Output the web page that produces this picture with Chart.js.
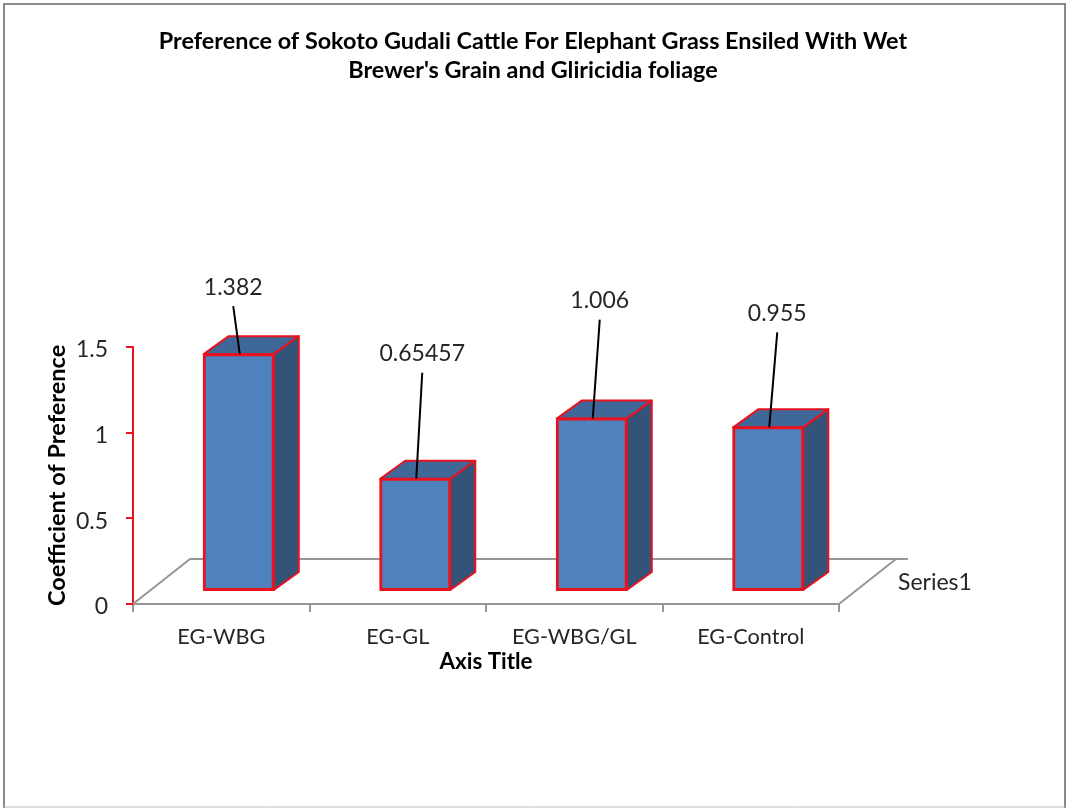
<!DOCTYPE html>
<html>
<head>
<meta charset="utf-8">
<title>Preference of Sokoto Gudali Cattle</title>
<script src="https://cdn.jsdelivr.net/npm/chart.js@4/dist/chart.umd.min.js"></script>
<style>
  html, body { margin: 0; padding: 0; background: #fff; }
  canvas { display: block; }
</style>
</head>
<body>
<canvas id="chart" width="1066" height="808"></canvas>
<script>
// Feed preference data
const categories = ['EG-WBG', 'EG-GL', 'EG-WBG/GL', 'EG-Control'];
const preference = [1.382, 0.65457, 1.006, 0.955];
const seriesName = 'Series1';
const yTicks = [0, 0.5, 1, 1.5];
const chartTitle = [
  'Preference of Sokoto Gudali Cattle For Elephant Grass Ensiled With Wet',
  "Brewer's Grain and Gliricidia foliage"
];

// Where each leader line ends, relative to the middle of its bar's front top edge
const labelOffsetX = [-6.5, 6, 7, 8];
const labelOffsetY = [-48, -106, -99, -95];

// Pseudo-3D projection, in pixels
const FLOOR_DX = 57, FLOOR_DY = -45;   // depth of the floor
const BAR_DX = 25, BAR_DY = -18;       // depth of one column
const FRONT_DX = 17.5, FRONT_DY = -13; // front face inset from the floor's front edge

const FONT = 'Lato, Carlito, Calibri, sans-serif';
const TEXT = '#262626';
const RED = '#ea121e';

const frame = {
  id: 'frame',
  beforeDraw(chart) {
    const { ctx } = chart;
    ctx.save();
    ctx.fillStyle = '#fff';
    ctx.fillRect(0, 0, chart.width, chart.height);
    ctx.strokeStyle = '#8a8a8a';
    ctx.lineWidth = 2;
    ctx.beginPath();
    ctx.moveTo(4, 808);
    ctx.lineTo(4, 4);
    ctx.lineTo(1065, 4);
    ctx.lineTo(1065, 808);
    ctx.stroke();
    ctx.strokeStyle = '#bdbdbd';
    ctx.lineWidth = 1;
    ctx.beginPath();
    ctx.moveTo(4, 807);
    ctx.lineTo(1065, 807);
    ctx.stroke();
    ctx.restore();
  },
  afterLayout(chart) {
    // The title is centred on the whole canvas, not on the narrower plot column
    chart.titleBlock.left = 0;
    chart.titleBlock.right = chart.width;
    // Lato's digits ride high on a middle baseline, so nudge the value-axis labels down
    chart.scales.y.getLabelItems().forEach(item => { item.textOffset += 3; });
  }
};

// Floor outline behind the columns, plus the depth-axis label
const floor = {
  id: 'floor',
  beforeDatasetsDraw(chart) {
    const { ctx, chartArea: a } = chart;
    ctx.save();
    ctx.strokeStyle = '#969696';
    ctx.lineWidth = 2;
    ctx.beginPath();
    ctx.moveTo(a.left, a.bottom);
    ctx.lineTo(a.left + FLOOR_DX, a.bottom + FLOOR_DY);
    ctx.lineTo(a.right + FLOOR_DX + 12, a.bottom + FLOOR_DY);
    ctx.moveTo(a.right, a.bottom);
    ctx.lineTo(a.right + FLOOR_DX, a.bottom + FLOOR_DY);
    ctx.stroke();
    ctx.fillStyle = TEXT;
    ctx.font = '23px ' + FONT;
    ctx.textBaseline = 'middle';
    ctx.textAlign = 'left';
    ctx.fillText(chart.data.datasets[0].label, a.right + 59, a.bottom - 21);
    ctx.restore();
  }
};

// Top and side faces go under the front face that the bar element paints
const column3d = {
  id: 'column3d',
  beforeDatasetDraw(chart, args) {
    const { ctx } = chart;
    ctx.save();
    ctx.translate(FRONT_DX, FRONT_DY);
    ctx.lineJoin = 'round';
    ctx.lineWidth = 2;
    ctx.strokeStyle = RED;
    args.meta.data.forEach(bar => {
      const l = bar.x - bar.width / 2, r = bar.x + bar.width / 2;
      const t = bar.y, b = bar.base;
      ctx.fillStyle = '#3f6797';
      ctx.beginPath();
      ctx.moveTo(l, t);
      ctx.lineTo(l + BAR_DX, t + BAR_DY);
      ctx.lineTo(r + BAR_DX, t + BAR_DY);
      ctx.lineTo(r, t);
      ctx.closePath();
      ctx.fill();
      ctx.stroke();
      ctx.fillStyle = '#335379';
      ctx.beginPath();
      ctx.moveTo(r, t);
      ctx.lineTo(r + BAR_DX, t + BAR_DY);
      ctx.lineTo(r + BAR_DX, b + BAR_DY);
      ctx.lineTo(r, b);
      ctx.closePath();
      ctx.fill();
      ctx.stroke();
    });
  },
  afterDatasetDraw(chart) {
    chart.ctx.restore();
  }
};

// Value labels with their black leader lines
const valueLabels = {
  id: 'valueLabels',
  afterDatasetsDraw(chart) {
    const { ctx } = chart;
    const meta = chart.getDatasetMeta(0);
    ctx.save();
    ctx.font = '23px ' + FONT;
    ctx.textAlign = 'center';
    ctx.textBaseline = 'middle';
    meta.data.forEach((bar, i) => {
      const sx = bar.x + FRONT_DX + 1, sy = bar.y + FRONT_DY;
      const lx = sx + labelOffsetX[i], ly = sy + labelOffsetY[i];
      ctx.strokeStyle = '#000';
      ctx.lineWidth = 2;
      ctx.beginPath();
      ctx.moveTo(sx, sy);
      ctx.lineTo(lx, ly);
      ctx.stroke();
      ctx.fillStyle = TEXT;
      ctx.fillText(String(preference[i]), lx, ly - 19);
    });
    ctx.restore();
  }
};

new Chart(document.getElementById('chart'), {
  type: 'bar',
  data: {
    labels: categories,
    datasets: [{
      label: seriesName,
      data: preference,
      backgroundColor: '#4f81bd',
      borderColor: RED,
      borderWidth: 3,
      borderSkipped: false,
      inflateAmount: 1,
      categoryPercentage: 1,
      barPercentage: 0.397,
      clip: false
    }]
  },
  plugins: [frame, floor, column3d, valueLabels],
  options: {
    responsive: false,
    animation: false,
    layout: { padding: { left: 43, right: 227, top: 26, bottom: 133 } },
    plugins: {
      legend: { display: false },
      tooltip: { enabled: false },
      title: {
        display: true,
        text: chartTitle,
        color: '#000',
        font: { family: FONT, size: 23.4, weight: 'bold', lineHeight: 1.28 },
        padding: { top: 0, bottom: 261 }
      }
    },
    scales: {
      x: {
        afterFit(scale) { scale.height = 71; },
        border: { color: '#969696', width: 2 },
        grid: { drawOnChartArea: false, drawTicks: true, tickLength: 8, color: '#969696', lineWidth: 2 },
        ticks: { color: TEXT, font: { family: FONT, size: 21.7 }, padding: 12, maxRotation: 0 },
        title: {
          display: true,
          text: 'Axis Title',
          color: '#000',
          font: { family: FONT, size: 22.4, weight: 'bold' },
          padding: { top: 0, bottom: 0 }
        }
      },
      y: {
        min: 0,
        max: 1.5,
        afterFit(scale) { scale.width = 90; },
        afterBuildTicks(scale) { scale.ticks = yTicks.map(v => ({ value: v })); },
        border: { color: RED, width: 2 },
        grid: { drawOnChartArea: false, drawTicks: true, tickLength: 7, color: RED, lineWidth: 2 },
        ticks: {
          color: TEXT,
          font: { family: FONT, size: 23 },
          padding: 18,
          callback: v => String(v)
        },
        title: {
          display: true,
          text: 'Coefficient of Preference',
          color: '#000',
          font: { family: FONT, size: 23.5, weight: 'bold' },
          padding: { top: 0, bottom: 0 }
        }
      }
    }
  }
});
</script>
</body>
</html>
